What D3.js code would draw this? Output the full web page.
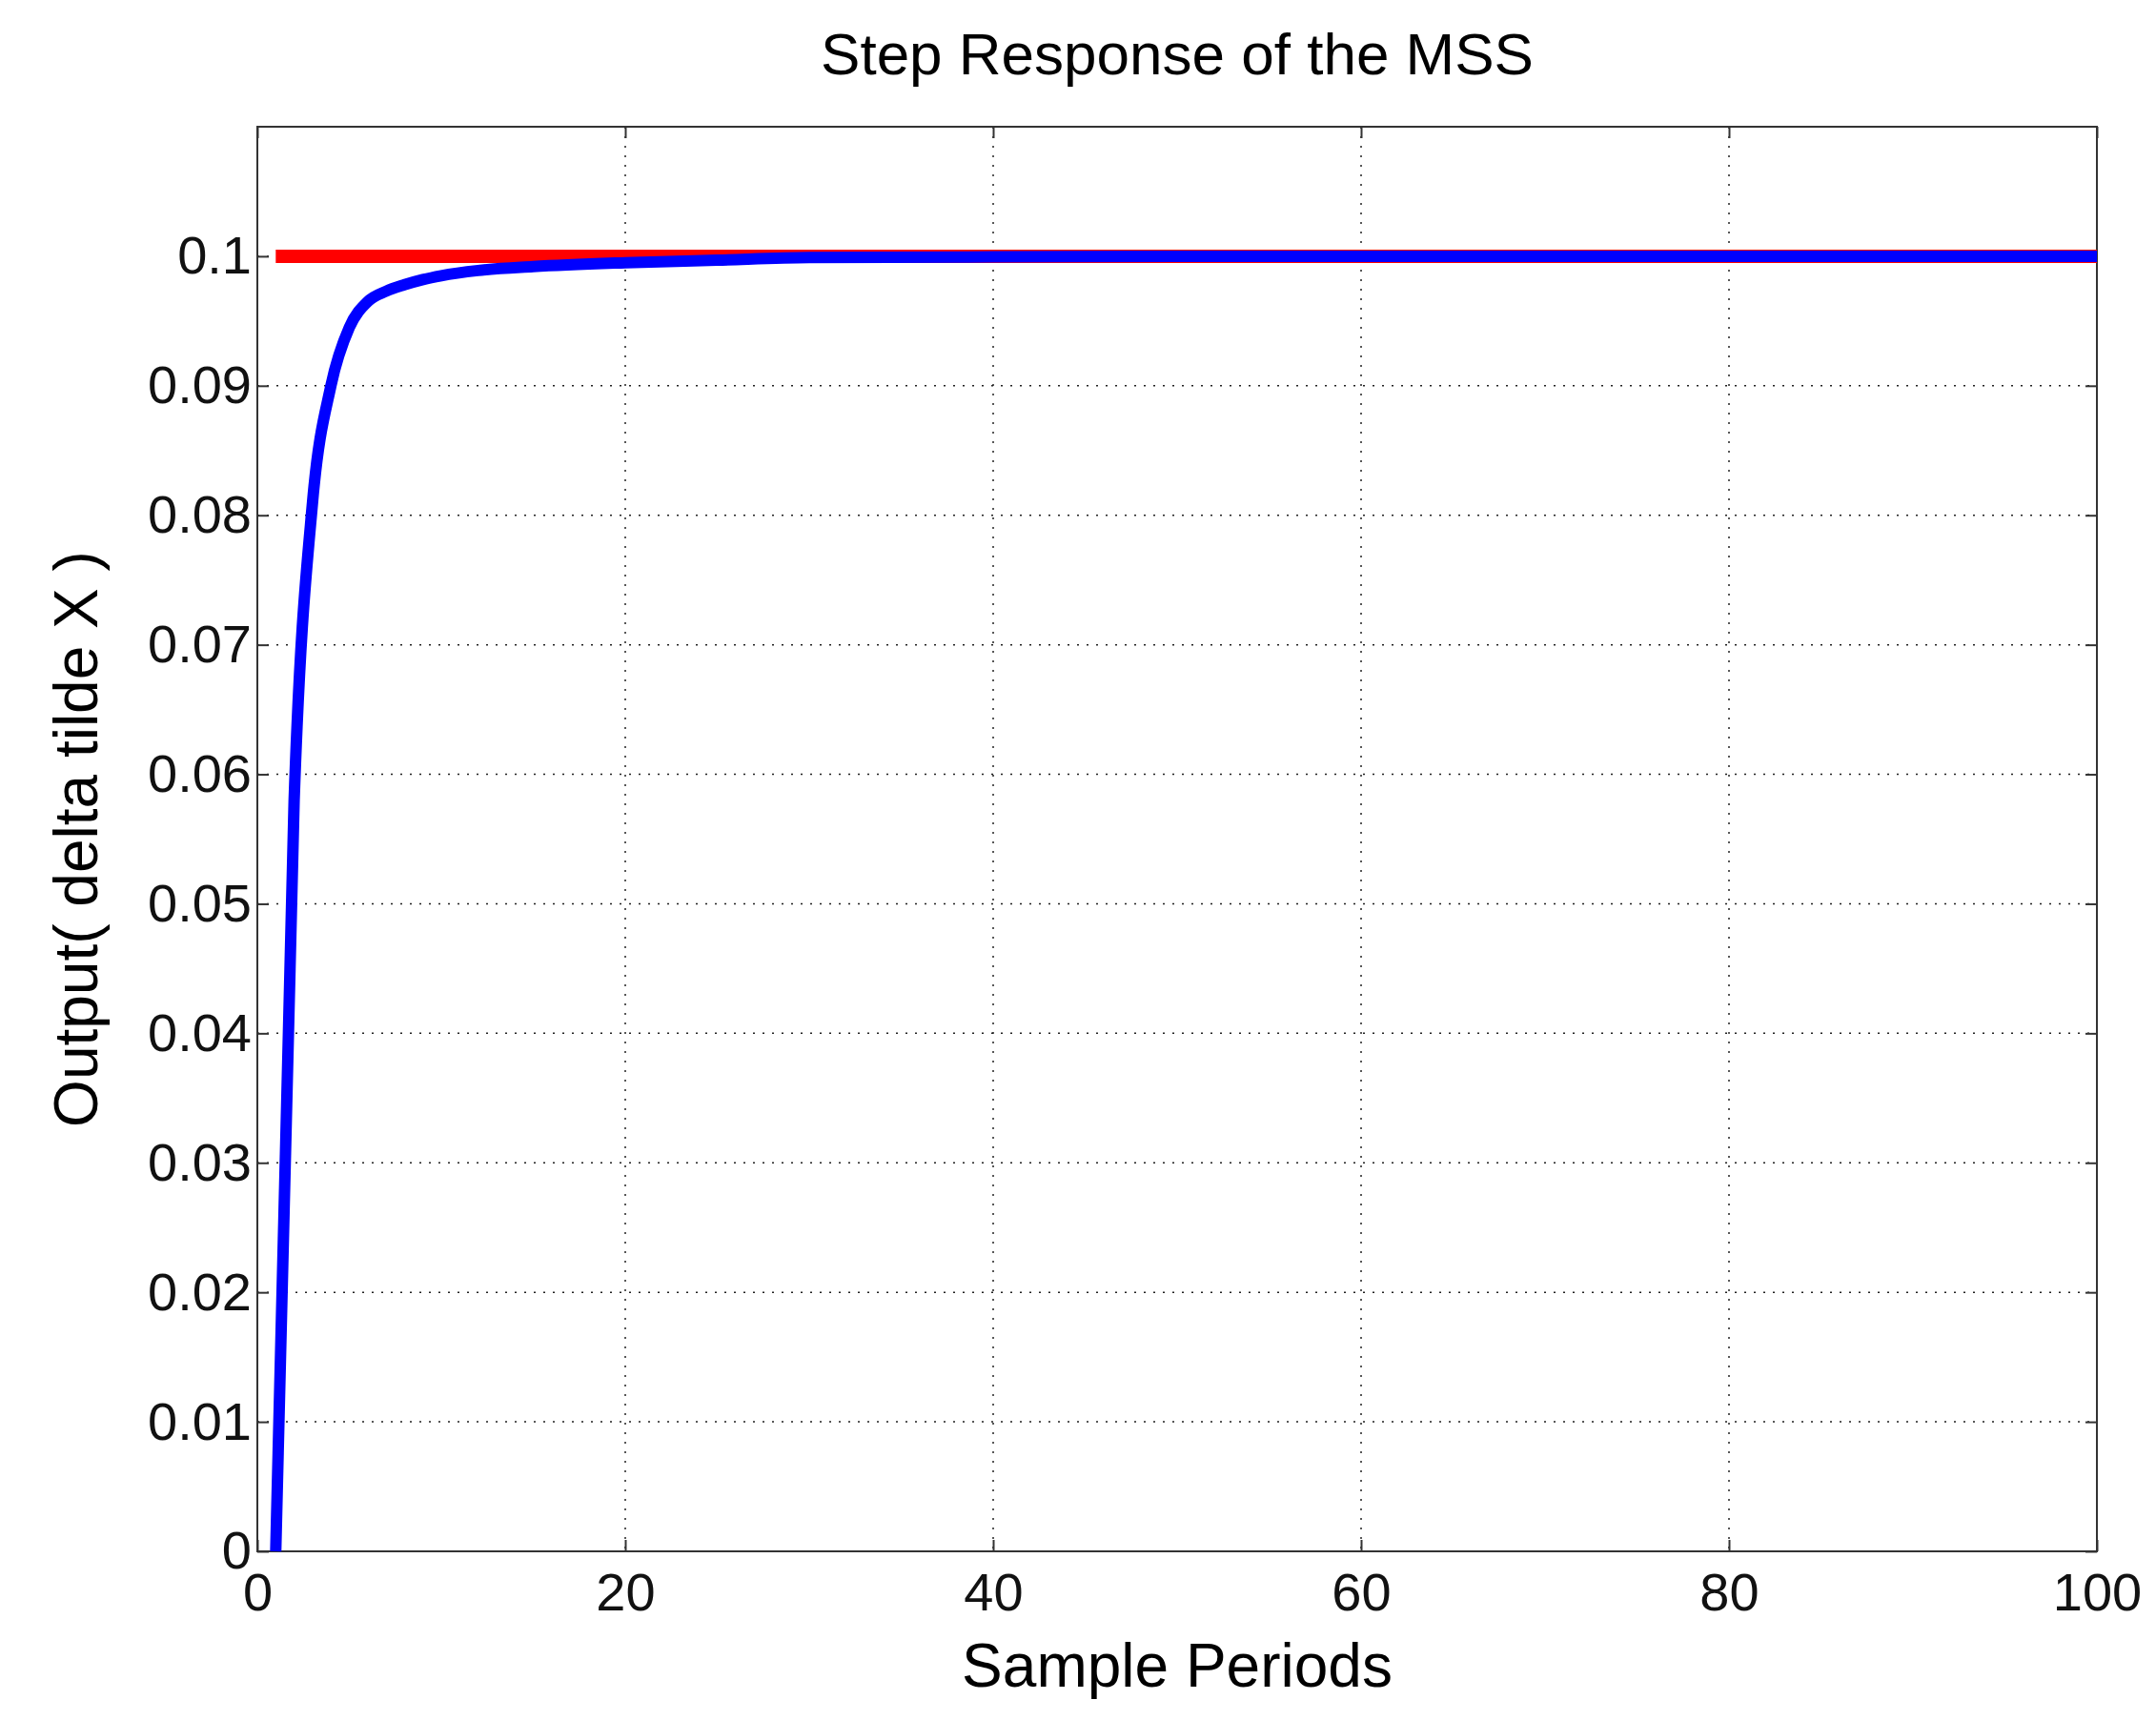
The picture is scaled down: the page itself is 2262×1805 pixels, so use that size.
<!DOCTYPE html>
<html><head><meta charset="utf-8">
<script src="https://cdn.jsdelivr.net/npm/d3@7"></script>
<style>body{margin:0;background:#fff}text{font-family:"Liberation Sans",Arial,sans-serif}</style>
</head><body><svg id="c" width="2262" height="1805"></svg>
<script>
const stepX=[1,2,3,4,5,6,7,8,9,10,12,15,20,25,30,40,50,60,70,80,90,100];
const stepY=[0,0.058,0.081,0.090,0.0945,0.0965,0.0973,0.0978,0.0982,0.0985,0.0989,0.0992,0.0995,0.0997,0.0999,0.09995,0.1,0.1,0.1,0.1,0.1,0.1];
const refX=[1,100], refY=[0.1,0.1];
const xTicks=[0,20,40,60,80,100];
const yTicks=[0,0.01,0.02,0.03,0.04,0.05,0.06,0.07,0.08,0.09,0.1];
const L=270,R=2200,T=133,B=1628;
const svg=d3.select("#c");
const x=d3.scaleLinear().domain([0,100]).range([L,R]);
const y=d3.scaleLinear().domain([0,0.11]).range([B,T]);
const g=svg.append("g");
g.selectAll(".gx").data(xTicks.slice(1,-1)).join("line").attr("x1",d=>x(d)).attr("x2",d=>x(d)).attr("y1",T).attr("y2",B).attr("stroke","#222").attr("stroke-width",1.5).attr("stroke-dasharray","2,8");
g.selectAll(".gy").data(yTicks.slice(1)).join("line").attr("x1",L).attr("x2",R).attr("y1",d=>y(d)).attr("y2",d=>y(d)).attr("stroke","#222").attr("stroke-width",1.5).attr("stroke-dasharray","2,8");
svg.append("rect").attr("x",L).attr("y",T).attr("width",R-L).attr("height",B-T).attr("fill","none").attr("stroke","#333").attr("stroke-width",2);
const xa=svg.append("g").attr("transform",`translate(0,${B})`).call(d3.axisBottom(x).tickValues(xTicks).tickSize(-12).tickPadding(22));
const xa2=svg.append("g").attr("transform",`translate(0,${T})`).call(d3.axisTop(x).tickValues(xTicks).tickSize(-12).tickFormat(""));
const ya=svg.append("g").attr("transform",`translate(${L},0)`).call(d3.axisLeft(y).tickValues(yTicks).tickSize(-12).tickPadding(6).tickFormat(d=>d===0?"0":String(+d.toFixed(2))));
const ya2=svg.append("g").attr("transform",`translate(${R},0)`).call(d3.axisRight(y).tickValues(yTicks).tickSize(-12).tickFormat(""));
[xa,xa2,ya,ya2].forEach(a=>{a.select(".domain").remove();a.selectAll("line").attr("stroke","#333").attr("stroke-width",2);a.selectAll("text").attr("font-size",56).attr("fill","#111").style("font-family","Liberation Sans, Arial");});
const line=d3.line().x(d=>x(d[0])).y(d=>y(d[1])).curve(d3.curveMonotoneX);
svg.append("path").datum(refX.map((v,i)=>[v,refY[i]])).attr("d",line).attr("fill","none").attr("stroke","#ff0000").attr("stroke-width",14);
svg.append("path").datum(stepX.map((v,i)=>[v,stepY[i]])).attr("d",line).attr("fill","none").attr("stroke","#0000ff").attr("stroke-width",12).attr("stroke-linejoin","round");
svg.append("text").attr("x",(L+R)/2).attr("y",78).attr("text-anchor","middle").attr("font-size",62).text("Step Response of the MSS");
svg.append("text").attr("x",(L+R)/2).attr("y",1770).attr("text-anchor","middle").attr("font-size",64).text("Sample Periods");
svg.append("text").attr("transform",`translate(102,${(T+B)/2}) rotate(-90)`).attr("text-anchor","middle").attr("font-size",64).text("Output( delta tilde X )");
</script></body></html>
